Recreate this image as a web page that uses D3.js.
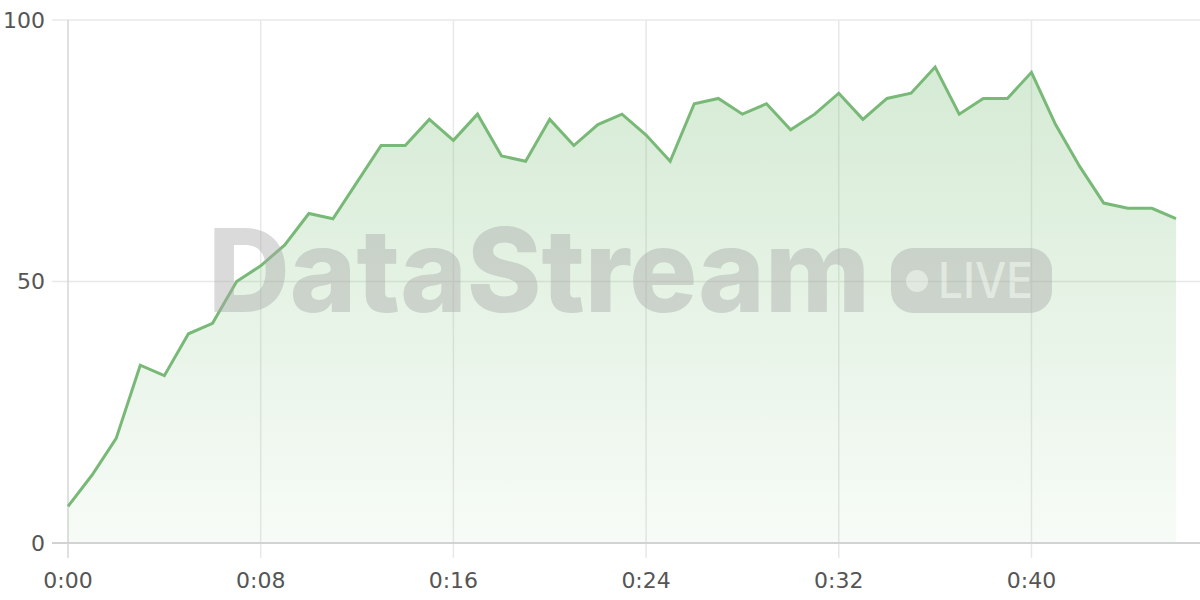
<!DOCTYPE html>
<html>
<head>
<meta charset="utf-8">
<script src="https://cdn.jsdelivr.net/npm/d3@7"></script>
<style>
  html, body { margin: 0; padding: 0; background: #fff; }
  #vis { width: 1200px; height: 600px; }
  text { font-family: "DejaVu Sans", sans-serif; }
</style>
</head>
<body>
<div id="vis"></div>
<script>
// one reading per second
var seconds = d3.range(0, 47);
var values = [7, 13, 20, 34, 32, 40, 42, 50, 53, 57, 63, 62, 69, 76, 76, 81, 77, 82, 74, 73,
              81, 76, 80, 82, 78, 73, 84, 85, 82, 84, 79, 82, 86, 81, 85, 86, 91, 82, 85, 85,
              90, 80, 72, 65, 64, 64, 62];
var x_ticks = [0, 8, 16, 24, 32, 40];
var y_ticks = [0, 50, 100];

var line_color = "#79b977";
var grid_color = "#e8e8e8";

var width = 1200, height = 600;
var margin = { top: 20, bottom: 57, left: 68, right: 24 };

var svg = d3.select('#vis')
    .append('svg')
    .attr('width', width)
    .attr('height', height);

var inner_w = width - margin.left - margin.right;
var inner_h = height - margin.top - margin.bottom;

var x_scale = d3.scaleLinear()
    .domain([0, 46])
    .range([margin.left, margin.left + inner_w]);

var y_scale = d3.scaleLinear()
    .domain([0, 100])
    .range([margin.top + inner_h, margin.top]);

function fmt_time(s) {
  return Math.floor(s / 60) + ':' + d3.format('02')(s % 60);
}

var defs = svg.append('defs');
var grad = defs.append('linearGradient')
    .attr('id', 'fill_grad')
    .attr('x1', 0).attr('y1', 0).attr('x2', 0).attr('y2', 1);
grad.append('stop').attr('offset', '0%').attr('stop-color', '#7cc07a').attr('stop-opacity', 0.32);
grad.append('stop').attr('offset', '100%').attr('stop-color', '#7cc07a').attr('stop-opacity', 0.06);

// horizontal grid
svg.append('g')
    .selectAll('line')
    .data(y_ticks.filter(function(d) { return d > 0; }))
    .enter()
    .append('line')
    .attr('x1', margin.left - 16)
    .attr('x2', width)
    .attr('y1', function(d) { return y_scale(d); })
    .attr('y2', function(d) { return y_scale(d); })
    .attr('stroke', grid_color)
    .attr('stroke-width', 1.5);

// vertical grid
svg.append('g')
    .selectAll('line')
    .data(x_ticks)
    .enter()
    .append('line')
    .attr('x1', function(d) { return x_scale(d); })
    .attr('x2', function(d) { return x_scale(d); })
    .attr('y1', margin.top)
    .attr('y2', y_scale(0) + 15)
    .attr('stroke', function(d) { return d === 0 ? '#d6d6d6' : grid_color; })
    .attr('stroke-width', 1.5);

var area = d3.area()
    .x(function(d, i) { return x_scale(seconds[i]); })
    .y0(y_scale(0))
    .y1(function(d) { return y_scale(d); });

var line = d3.line()
    .x(function(d, i) { return x_scale(seconds[i]); })
    .y(function(d) { return y_scale(d); });

svg.append('path')
    .datum(values)
    .attr('d', area)
    .attr('fill', 'url(#fill_grad)');

svg.append('path')
    .datum(values)
    .attr('d', line)
    .attr('fill', 'none')
    .attr('stroke', line_color)
    .attr('stroke-width', 3)
    .attr('stroke-linejoin', 'miter');

// x axis baseline
svg.append('line')
    .attr('x1', margin.left - 16)
    .attr('x2', width)
    .attr('y1', y_scale(0))
    .attr('y2', y_scale(0))
    .attr('stroke', '#d2d2d2')
    .attr('stroke-width', 2);

// axis labels
svg.append('g')
    .selectAll('text')
    .data(y_ticks)
    .enter()
    .append('text')
    .attr('x', 45)
    .attr('y', function(d) { return y_scale(d); })
    .attr('dy', '0.36em')
    .attr('text-anchor', 'end')
    .style('font-size', '22px')
    .style('fill', '#555')
    .text(function(d) { return d; });

svg.append('g')
    .selectAll('text')
    .data(x_ticks)
    .enter()
    .append('text')
    .attr('x', function(d) { return x_scale(d); })
    .attr('y', 588)
    .attr('text-anchor', 'middle')
    .style('font-size', '22px')
    .style('fill', '#555')
    .text(fmt_time);

// watermark
var wm = svg.append('g').attr('opacity', 0.42);
wm.append('text')
    .attr('x', 208)
    .attr('y', 312)
    .attr('textLength', 662)
    .attr('lengthAdjust', 'spacingAndGlyphs')
    .style('font-family', 'Inter, "Open Sans", sans-serif')
    .style('font-weight', 800)
    .style('font-size', '116px')
    .style('fill', '#a9a9a9')
    .text('DataStream');
wm.append('rect')
    .attr('x', 891).attr('y', 248)
    .attr('width', 161).attr('height', 65)
    .attr('rx', 22)
    .attr('fill', '#a9a9a9');
wm.append('circle')
    .attr('cx', 917).attr('cy', 281).attr('r', 11)
    .attr('fill', '#fff').attr('fill-opacity', 0.6);
wm.append('text')
    .attr('x', 938)
    .attr('y', 298)
    .attr('textLength', 95)
    .attr('lengthAdjust', 'spacingAndGlyphs')
    .style('font-family', 'Inter, "Open Sans", sans-serif')
    .style('font-weight', 500)
    .style('font-size', '50px')
    .style('fill', '#fff')
    .style('fill-opacity', 0.6)
    .text('LIVE');
</script>
</body>
</html>
